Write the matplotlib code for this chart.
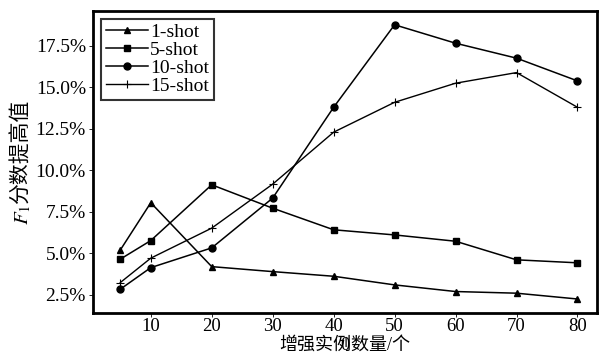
import matplotlib
matplotlib.use("Agg")
import matplotlib.pyplot as plt
from matplotlib.ticker import FuncFormatter

plt.rcParams['font.family'] = ['Liberation Serif', 'Noto Sans CJK SC']
plt.rcParams['mathtext.fontset'] = 'stix'

x = [5, 10, 20, 30, 40, 50, 60, 70, 80]
shot1 = [5.2, 8.05, 4.2, 3.9, 3.62, 3.1, 2.7, 2.6, 2.25]
shot5 = [4.65, 5.77, 9.13, 7.72, 6.42, 6.11, 5.73, 4.61, 4.43]
shot10 = [2.84, 4.14, 5.33, 8.33, 13.8, 18.77, 17.66, 16.76, 15.39]
shot15 = [3.24, 4.71, 6.52, 9.17, 12.3, 14.1, 15.25, 15.89, 13.8]
xticks = [0, 10, 20, 30, 40, 50, 60, 70, 80]
yticks = [2.5, 5.0, 7.5, 10.0, 12.5, 15.0, 17.5]

fig = plt.figure(figsize=(6.03, 3.55), dpi=100)
ax = fig.add_axes([0.154, 0.118, 0.836, 0.851])

ax.plot(x, shot1, color='black', lw=1.1, marker='^', ms=5, label='1-shot')
ax.plot(x, shot5, color='black', lw=1.1, marker='s', ms=5, label='5-shot')
ax.plot(x, shot10, color='black', lw=1.1, marker='o', ms=5, label='10-shot')
ax.plot(x, shot15, color='black', lw=1.0, marker='+', ms=6, mew=0.8, label='15-shot')

ax.set_xlim(0.5, 83.2)
ax.set_ylim(1.4, 19.6)
ax.set_xticks(xticks[1:])
ax.set_yticks(yticks)
ax.yaxis.set_major_formatter(FuncFormatter(lambda v, p: '%.1f%%' % v))
ax.tick_params(direction='out', length=3, width=0.6, labelsize=14, pad=2)
ax.tick_params(axis='x', pad=0.5, labelsize=13.5)
ax.text(0.5, -0.013, '0', transform=ax.get_yaxis_transform(), fontsize=13.5,
        ha='center', va='top')

for s in ax.spines.values():
    s.set_linewidth(2)

ax.set_xlabel('增强实例数量/个', fontsize=13)
ax.xaxis.set_label_coords(0.5, -0.079)

# y label: italic F_1 (mathtext) + CJK text as two pieces
fig.text(0.036, 0.425, '分数提高值', rotation=90, fontsize=15,
         ha='center', va='bottom')
fig.text(0.039, 0.425, '$F_1$', rotation=90, fontsize=15,
         ha='center', va='top')

leg = ax.legend(loc='upper left', fontsize=14, frameon=True, fancybox=False,
                edgecolor='black', handlelength=2.2, handletextpad=0.1,
                labelspacing=0.02, borderpad=0.25, borderaxespad=0.4)
leg.get_frame().set_linewidth(1.5)

fig.savefig('out.png', dpi=100)
